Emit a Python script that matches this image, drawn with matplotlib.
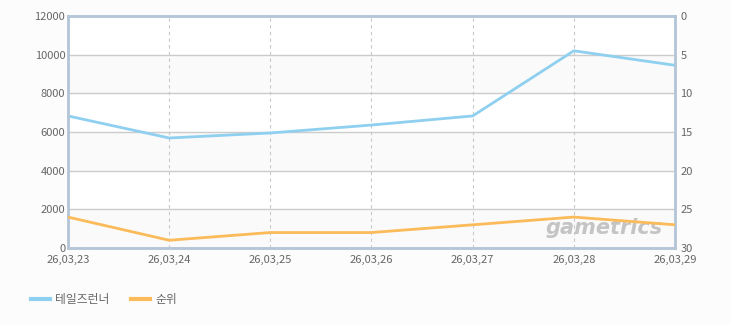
import matplotlib
matplotlib.use("Agg")
import matplotlib.pyplot as plt
from matplotlib.lines import Line2D

plt.rcParams['font.family'] = ['Noto Sans CJK KR', 'DejaVu Sans']

dates = ["26,03,23", "26,03,24", "26,03,25", "26,03,26", "26,03,27", "26,03,28", "26,03,29"]
players = [6830, 5690, 5950, 6360, 6830, 10200, 9450]
rank = [26, 29, 28, 28, 27, 26, 27]
left_ticks = [0, 2000, 4000, 6000, 8000, 10000, 12000]
right_ticks = [0, 5, 10, 15, 20, 25, 30]

fig = plt.figure(figsize=(7.3, 3.25), dpi=100)
fig.patch.set_facecolor('#fcfcfc')
W, H = 730, 325
ax = fig.add_axes([68 / W, 1 - 248 / H, (675 - 68) / W, (248 - 16) / H])
ax.set_facecolor('white')
x = list(range(len(dates)))

# alternating bands
for i in range(len(left_ticks) - 1):
    if i % 2 == 0:
        ax.axhspan(left_ticks[i], left_ticks[i + 1], color='#fafafa', zorder=0)
for t in left_ticks[1:-1]:
    ax.axhline(t, color='#cccccc', lw=1, zorder=1)
for xi in x[1:-1]:
    ax.axvline(xi, color='#c8c8c8', lw=0.8, ls=(0, (3, 3)), zorder=1)

ax.plot(x, players, color='#8fd0f0', lw=2, zorder=3)
ax.set_xlim(0, len(dates) - 1)
ax.set_ylim(0, 12000)
ax.set_yticks(left_ticks)
ax.set_xticks(x)
ax.set_xticklabels(dates)
ax.tick_params(axis='both', length=0, colors='#666666', labelsize=8, pad=2)
ax.tick_params(axis='x', pad=5)

ax2 = ax.twinx()
ax2.plot(x, rank, color='#fbbb5a', lw=2, zorder=3)
ax2.set_ylim(30, 0)
ax2.set_yticks(right_ticks)
ax2.tick_params(axis='y', length=0, colors='#666666', labelsize=8, pad=4)

for a in (ax, ax2):
    for s in a.spines.values():
        s.set_color('#b4c6d8')
        s.set_linewidth(1.8)

ax.text(0.98, 0.045, 'gametrics', transform=ax.transAxes, ha='right', va='bottom',
        fontsize=15, fontweight='bold', style='italic', color='#c4c4c4',
        family='DejaVu Sans', zorder=2)

handles = [Line2D([], [], color='#8fd0f0', lw=3), Line2D([], [], color='#fbbb5a', lw=3)]
fig.legend(handles, ['테일즈런너', '순위'], loc='center left', bbox_to_anchor=(20 / W, 1 - 300 / H),
           ncol=2, frameon=False, fontsize=8.5, handlelength=1.6, handletextpad=0.5,
           columnspacing=1.8, labelcolor='#666666')

fig.savefig('out.png', dpi=100, facecolor=fig.get_facecolor())
